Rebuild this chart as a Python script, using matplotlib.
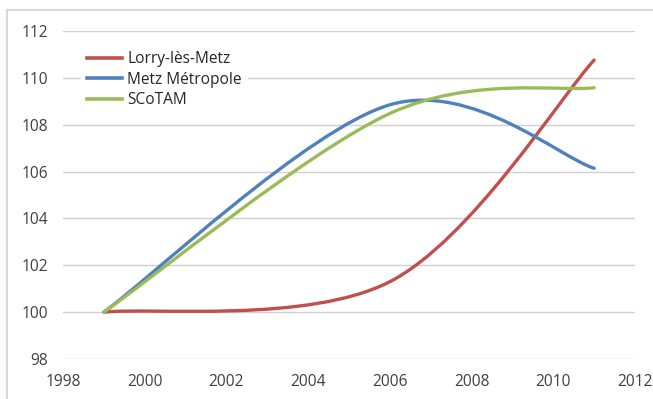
import matplotlib
matplotlib.use("Agg")
import matplotlib.pyplot as plt
from matplotlib.path import Path
from matplotlib.patches import PathPatch, Rectangle
from matplotlib.lines import Line2D

years = [1999, 2006, 2011]
series_names = ["Lorry-lès-Metz", "Metz Métropole", "SCoTAM"]
lorry = [100.0, 101.3, 110.76]
metz = [100.0, 108.85, 106.14]
scotam = [100.0, 108.48, 109.58]
colors = ["#C0504D", "#4F81BD", "#9BBB59"]
x_ticks = [1998, 2000, 2002, 2004, 2006, 2008, 2010, 2012]
y_ticks = [98, 100, 102, 104, 106, 108, 110, 112]

FONT = ["Open Sans", "DejaVu Sans"]
plt.rcParams["font.family"] = FONT
FS = 11.2


def smooth_path(xs, ys):
    """Excel-like smoothed line: Catmull-Rom converted to cubic Bezier."""
    pts = list(zip(xs, ys))
    n = len(pts)
    verts = [pts[0]]
    codes = [Path.MOVETO]
    for i in range(n - 1):
        p0 = pts[i - 1] if i > 0 else pts[i]
        p1 = pts[i]
        p2 = pts[i + 1]
        p3 = pts[i + 2] if i + 2 < n else pts[i + 1]
        c1 = (p1[0] + (p2[0] - p0[0]) / 6.0, p1[1] + (p2[1] - p0[1]) / 6.0)
        c2 = (p2[0] - (p3[0] - p1[0]) / 6.0, p2[1] - (p3[1] - p1[1]) / 6.0)
        verts += [c1, c2, p2]
        codes += [Path.CURVE4] * 3
    return Path(verts, codes)


fig = plt.figure(figsize=(6.53, 3.99), dpi=100)
fig.patch.set_facecolor("white")

# chart-area border (top and left visible)
fig.add_artist(Rectangle((7 / 653, -0.1), 1.2, 1 - 10 / 399 + 0.1,
                         transform=fig.transFigure, fill=False,
                         edgecolor="#d9d9d9", linewidth=1.5))

ax = fig.add_axes([63 / 653, 1 - 359 / 399, (635 - 63) / 653, (359 - 31) / 399])
ax.set_xlim(1998, 2012)
ax.set_ylim(98, 112)
ax.set_xticks(x_ticks)
ax.set_yticks(y_ticks)
ax.set_xticklabels([str(v) for v in x_ticks], fontsize=FS, color="#404040")
ax.set_yticklabels([str(v) for v in y_ticks], fontsize=FS, color="#404040")
ax.tick_params(axis="y", length=0, pad=11)
ax.tick_params(axis="x", length=0, pad=11)
for s in ax.spines.values():
    s.set_visible(False)
ax.grid(axis="y", color="#d0d0d0", linewidth=1.0)
ax.set_axisbelow(True)

for vals, col in zip([lorry, metz, scotam], colors):
    patch = PathPatch(smooth_path(years, vals), facecolor="none", edgecolor=col,
                      linewidth=2.4, capstyle="round", joinstyle="round",
                      transform=ax.transData, zorder=3)
    ax.add_patch(patch)

handles = [Line2D([], [], color=c, linewidth=2.6) for c in colors]
leg = ax.legend(handles, series_names, loc="upper left",
                bbox_to_anchor=(0.031, 0.957), frameon=True, fontsize=FS,
                handlelength=2.25, handletextpad=0.35, labelspacing=0.28,
                borderpad=0.4, borderaxespad=0.0)
leg.get_frame().set_edgecolor("none")
leg.get_frame().set_facecolor("white")
leg.get_frame().set_alpha(1.0)
leg.get_frame().set_boxstyle("square", pad=0)
for t in leg.get_texts():
    t.set_color("#262626")

fig.savefig("out.png", dpi=100)
